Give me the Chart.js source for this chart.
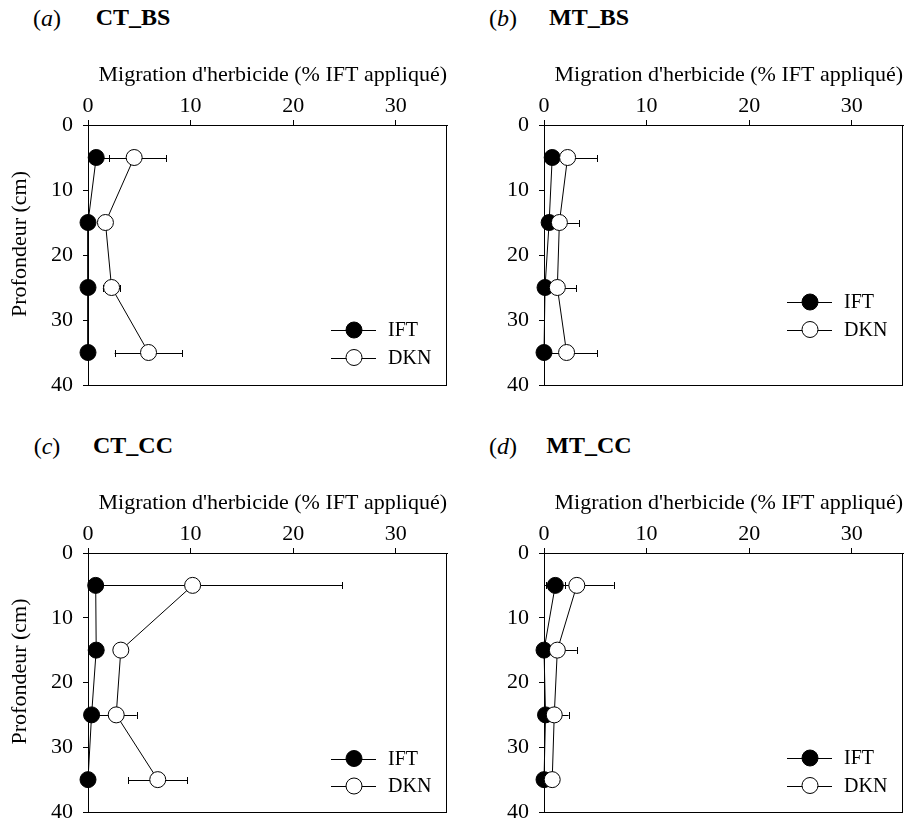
<!DOCTYPE html>
<html><head><meta charset="utf-8">
<script src="https://cdn.jsdelivr.net/npm/chart.js@4.4.1/dist/chart.umd.min.js"></script>
<style>
html,body{margin:0;padding:0;background:#fff;width:912px;height:824px;overflow:hidden;font-family:'Liberation Serif','Times New Roman',serif;color:#000;}
.panel{position:absolute;width:456px;}
.panel canvas{position:absolute;left:0;top:0;}
.lab{position:absolute;top:6px;width:60px;margin-left:-30px;text-align:center;font-size:24px;line-height:24px;}
.ttl{position:absolute;top:5px;width:160px;margin-left:-80px;text-align:center;font-size:24px;line-height:24px;font-weight:bold;}
.warm{position:absolute;left:-999px;top:0;font-size:20px;}
</style></head>
<body>
<div class="warm">Migration 0123 <i>abc</i> <b>CT</b></div>
<script>
// ---- data ----
const depths = [5, 15, 25, 35];
const xTicks = [0, 10, 20, 30];
const yTicks = [0, 10, 20, 30, 40];
const seriesNames = ['IFT', 'DKN'];
const panelLetters = ['a', 'b', 'c', 'd'];
const panelTitles = ['CT_BS', 'MT_BS', 'CT_CC', 'MT_CC'];
const xTitle = "Migration d'herbicide (% IFT appliqué)";
const yTitle = 'Profondeur (cm)';

const iftA = [0.8, 0, 0, 0];
const iftErrA = [1.25, 0, 0, 0];
const dknA = [4.5, 1.7, 2.3, 5.9];
const dknErrA = [3.15, 0.4, 0.85, 3.3];

const iftB = [0.8, 0.5, 0.1, 0];
const iftErrB = [0.3, 0.3, 0.2, 0];
const dknB = [2.3, 1.5, 1.3, 2.2];
const dknErrB = [2.9, 1.9, 1.85, 3.0];

const iftC = [0.75, 0.8, 0.35, 0];
const iftErrC = [0.2, 0.2, 0.2, 0];
const dknC = [10.2, 3.2, 2.75, 6.8];
const dknErrC = [14.6, 0.5, 2.0, 2.9];

const iftD = [1.1, 0, 0.15, 0];
const iftErrD = [0.95, 0, 0.2, 0];
const dknD = [3.2, 1.3, 1.0, 0.8];
const dknErrD = [3.6, 1.9, 1.4, 0.3];

const panels = [
  {ift: iftA, iftErr: iftErrA, dkn: dknA, dknErr: dknErrA},
  {ift: iftB, iftErr: iftErrB, dkn: dknB, dknErr: dknErrB},
  {ift: iftC, iftErr: iftErrC, dkn: dknC, dknErr: dknErrC},
  {ift: iftD, iftErr: iftErrD, dkn: dknD, dknErr: dknErrD}
];

// ---- layout / style ----
const FONT = '"Liberation Serif"';
Chart.defaults.font.family = FONT;
Chart.defaults.font.size = 22;
Chart.defaults.color = '#000';

const layoutCfg = [
  {left: 0, top: 0, h: 400, padB: 15, showY: true, legY: 330},
  {left: 456, top: 0, h: 400, padB: 15, showY: false, legY: 302},
  {left: 0, top: 428, h: 396, padB: 12, showY: true, legY: 330.5},
  {left: 456, top: 428, h: 396, padB: 12, showY: false, legY: 330}
];

const errorBarPlugin = {
  id: 'errorBars',
  beforeDatasetsDraw(chart) {
    const {ctx, chartArea, scales} = chart;
    const xs = scales.x;
    ctx.save();
    ctx.beginPath();
    ctx.rect(chartArea.left, chartArea.top - 10, chartArea.right - chartArea.left, chartArea.bottom - chartArea.top + 20);
    ctx.clip();
    ctx.strokeStyle = '#000';
    ctx.lineWidth = 1;
    chart.data.datasets.forEach((ds, i) => {
      const meta = chart.getDatasetMeta(i);
      meta.data.forEach((pt, j) => {
        const e = ds.errors[j];
        if (!e) return;
        const v = ds.data[j].x;
        const x1 = xs.getPixelForValue(v - e);
        const x2 = xs.getPixelForValue(v + e);
        const y = Math.round(pt.y) + 0.5;
        ctx.beginPath();
        ctx.moveTo(x1, y); ctx.lineTo(x2, y);
        ctx.moveTo(Math.round(x1) + 0.5, y - 3.5); ctx.lineTo(Math.round(x1) + 0.5, y + 3.5);
        ctx.moveTo(Math.round(x2) + 0.5, y - 3.5); ctx.lineTo(Math.round(x2) + 0.5, y + 3.5);
        ctx.stroke();
      });
    });
    ctx.restore();
  }
};

const boxPlugin = {
  id: 'plotBox',
  beforeDatasetsDraw(chart) {
    const {ctx, chartArea} = chart;
    ctx.save();
    ctx.strokeStyle = '#000';
    ctx.lineWidth = 1;
    ctx.strokeRect(Math.round(chartArea.left) + 0.5, Math.round(chartArea.top) + 0.5,
      Math.round(chartArea.right - chartArea.left) - 1, Math.round(chartArea.bottom - chartArea.top));
    ctx.restore();
  }
};

const legendPlugin = {
  id: 'inLegend',
  afterDatasetsDraw(chart, args, opts) {
    const {ctx} = chart;
    ctx.save();
    chart.data.datasets.forEach((ds, i) => {
      const y = opts.y + i * 27.5;
      const x0 = opts.x;
      ctx.strokeStyle = '#000';
      ctx.lineWidth = 1;
      ctx.beginPath();
      ctx.moveTo(x0, Math.round(y) + 0.5);
      ctx.lineTo(x0 + 45, Math.round(y) + 0.5);
      ctx.stroke();
      ctx.beginPath();
      ctx.arc(x0 + 23, y, 8, 0, Math.PI * 2);
      ctx.fillStyle = ds.pointBackgroundColor;
      ctx.fill();
      ctx.stroke();
      ctx.fillStyle = '#000';
      ctx.font = '20px ' + FONT;
      ctx.textBaseline = 'middle';
      ctx.textAlign = 'left';
      ctx.fillText(ds.label, x0 + 57, y + 1);
    });
    ctx.restore();
  }
};

function build() {
  panels.forEach((p, k) => {
    const L = layoutCfg[k];
    const div = document.createElement('div');
    div.className = 'panel';
    div.style.left = L.left + 'px';
    div.style.top = L.top + 'px';
    div.style.height = L.h + 'px';
    const lab = document.createElement('div');
    lab.className = 'lab';
    lab.style.left = '47px';
    lab.innerHTML = '(<i>' + panelLetters[k] + '</i>)';
    const ttl = document.createElement('div');
    ttl.className = 'ttl';
    ttl.style.left = '133px';
    ttl.textContent = panelTitles[k];
    const cv = document.createElement('canvas');
    cv.width = 456; cv.height = L.h;
    div.appendChild(lab); div.appendChild(ttl); div.appendChild(cv);
    document.body.appendChild(div);

    const mk = (vals, errs, name, fill, order) => ({
      label: name,
      data: depths.map((d, i) => ({x: vals[i], y: d})),
      errors: errs,
      showLine: true,
      borderColor: '#000',
      borderWidth: 1,
      pointRadius: 8,
      pointBorderWidth: 1,
      pointBorderColor: '#000',
      pointBackgroundColor: fill,
      clip: false,
      order: order
    });

    new Chart(cv, {
      type: 'scatter',
      data: {datasets: [
        mk(p.ift, p.iftErr, seriesNames[0], '#000', 1),
        mk(p.dkn, p.dknErr, seriesNames[1], '#fff', 0)
      ]},
      options: {
        responsive: false,
        animation: false,
        devicePixelRatio: 1,
        events: [],
        layout: {padding: {left: 0, top: 0, right: 8, bottom: L.padB}},
        plugins: {
          legend: {display: false},
          tooltip: {enabled: false},
          inLegend: {x: 331, y: L.legY}
        },
        scales: {
          x: {
            type: 'linear', position: 'top', min: 0, max: 35,
            afterBuildTicks: s => { s.ticks = xTicks.map(v => ({value: v})); },
            afterFit: s => { s.height = 125; s.paddingLeft = 0; s.paddingRight = 0; },
            grid: {drawOnChartArea: false, drawTicks: true, tickLength: 5, color: '#000', lineWidth: 1},
            border: {display: true, color: '#000', width: 1},
            ticks: {padding: 1, color: '#000', font: {size: 22}, maxRotation: 0, autoSkip: false},
            title: {display: true, text: xTitle, align: 'end', padding: {top: 62, bottom: 0}, color: '#000', font: {size: 22}}
          },
          y: {
            type: 'linear', position: 'left', reverse: true, min: 0, max: 40,
            afterBuildTicks: s => { s.ticks = yTicks.map(v => ({value: v})); },
            afterFit: s => { s.width = 88; s.paddingTop = 0; s.paddingBottom = 0; },
            grid: {drawOnChartArea: false, drawTicks: true, tickLength: 5, color: '#000', lineWidth: 1},
            border: {display: true, color: '#000', width: 1},
            ticks: {padding: 10, color: '#000', font: {size: 22}, autoSkip: false},
            title: {display: L.showY, text: '\u2003' + yTitle, padding: {top: 7, bottom: 0}, color: '#000', font: {size: 22}}
          }
        }
      },
      plugins: [boxPlugin, errorBarPlugin, legendPlugin]
    });
  });
}

Promise.all([
  document.fonts.load('22px "Liberation Serif"'),
  document.fonts.load('bold 24px "Liberation Serif"'),
  document.fonts.load('italic 24px "Liberation Serif"')
]).then(build, build);
</script>
</body></html>
